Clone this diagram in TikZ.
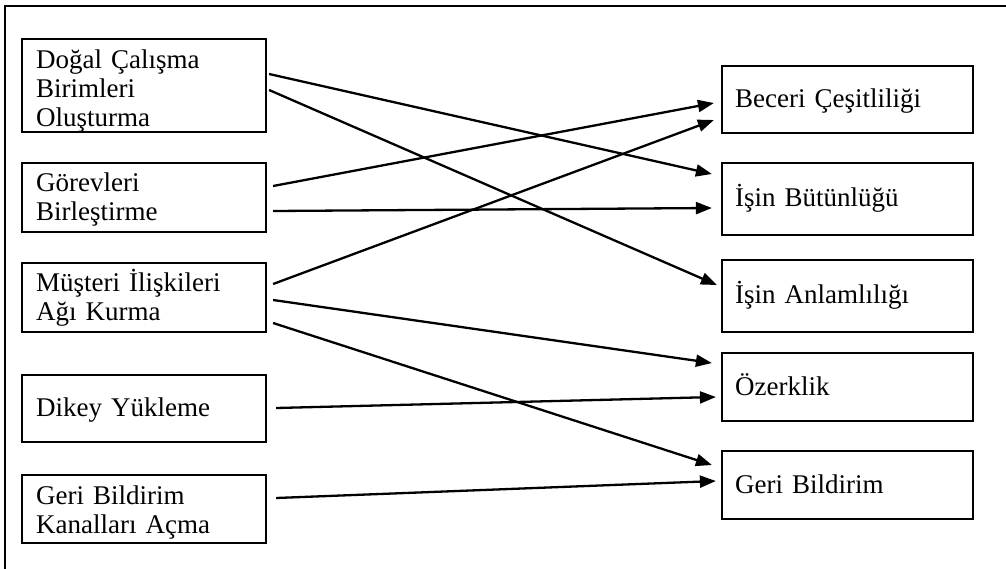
\documentclass[tikz,border=0pt]{standalone}
\usepackage{fontspec}
\setmainfont{Liberation Serif}
\usetikzlibrary{arrows.meta}
\begin{document}
\begin{tikzpicture}[x=1pt,y=-1pt,
  box/.style={draw,line width=2.2pt,inner sep=0pt,anchor=center},
  leftbox/.style={box,minimum width=244pt},
  rightbox/.style={box,minimum width=251pt},
  label/.style={inner sep=0pt,anchor=base west,text width=220pt,align=left,
    font=\fontsize{27}{29}\selectfont},
  conn/.style={line width=2.3pt,-{Triangle[length=16pt,width=12pt]}},
  frameline/.style={line width=2.2pt}]
\useasboundingbox (0,0) rectangle (1006,568);
\clip (0,0) rectangle (1006,568);
% open frame around the figure (right and bottom sides lie outside)
\draw[frameline] (5,580) -- (5,6) -- (1020,6);

% job design actions
\node[leftbox,minimum height=93pt] (dogal) at (144,85.5) {};
\node[leftbox,minimum height=69pt] (gorev) at (144,197.5) {};
\node[leftbox,minimum height=69pt] (muster) at (144,297.5) {};
\node[leftbox,minimum height=67pt] (dikey) at (144,408.5) {};
\node[leftbox,minimum height=68pt] (kanal) at (144,509) {};
\node[label] (dogal-t) at ([xshift=15pt,yshift=-31pt]dogal.north west) {Doğal Çalışma\\Birimleri\\Oluşturma};
\node[label] (gorev-t) at ([xshift=15pt,yshift=-30pt]gorev.north west) {Görevleri\\Birleştirme};
\node[label] (muster-t) at ([xshift=15pt,yshift=-30pt]muster.north west) {Müşteri İlişkileri\\Ağı Kurma};
\node[label] (dikey-t) at ([xshift=15pt,yshift=-43pt]dikey.north west) {Dikey Yükleme};
\node[label] (kanal-t) at ([xshift=15pt,yshift=-31pt]kanal.north west) {Geri Bildirim\\Kanalları Açma};

% core job characteristics
\node[rightbox,minimum height=67pt] (beceri) at (847.5,99.5) {};
\node[rightbox,minimum height=72pt] (butun) at (847.5,199) {};
\node[rightbox,minimum height=72pt] (anlam) at (847.5,296) {};
\node[rightbox,minimum height=68pt] (ozerk) at (847.5,387) {};
\node[rightbox,minimum height=68pt] (geri) at (847.5,485) {};
\node[label] (beceri-t) at ([xshift=14pt,yshift=-43pt]beceri.north west) {Beceri Çeşitliliği};
\node[label] (butun-t) at ([xshift=14pt,yshift=-45pt]butun.north west) {İşin Bütünlüğü};
\node[label] (anlam-t) at ([xshift=14pt,yshift=-45pt]anlam.north west) {İşin Anlamlılığı};
\node[label] (ozerk-t) at ([xshift=14pt,yshift=-44pt]ozerk.north west) {Özerklik};
\node[label] (geri-t) at ([xshift=14pt,yshift=-44pt]geri.north west) {Geri Bildirim};

% links: source, y offset at source, target, y offset at target
\draw[conn] ([xshift=2pt,yshift=11.5pt]dogal.east) -- ([xshift=-9pt,yshift=25pt]butun.west);
\draw[conn] ([xshift=2pt,yshift=-4.5pt]dogal.east) -- ([xshift=-4pt,yshift=11pt]anlam.west);
\draw[conn] ([xshift=6pt,yshift=11.5pt]gorev.east) -- ([xshift=-7pt,yshift=-3.5pt]beceri.west);
\draw[conn] ([xshift=6pt,yshift=-13.5pt]gorev.east) -- ([xshift=-9pt,yshift=-9pt]butun.west);
\draw[conn] ([xshift=6pt,yshift=13.5pt]muster.east) -- ([xshift=-7pt,yshift=-20.5pt]beceri.west);
\draw[conn] ([xshift=6pt,yshift=-2.5pt]muster.east) -- ([xshift=-9pt,yshift=24pt]ozerk.west);
\draw[conn] ([xshift=6pt,yshift=-25.5pt]muster.east) -- ([xshift=-9pt,yshift=20pt]geri.west);
\draw[conn] ([xshift=9pt,yshift=0.5pt]dikey.east) -- ([xshift=-5pt,yshift=-10pt]ozerk.west);
\draw[conn] ([xshift=9pt,yshift=11pt]kanal.east) -- ([xshift=-5pt,yshift=4pt]geri.west);
\end{tikzpicture}
\end{document}
